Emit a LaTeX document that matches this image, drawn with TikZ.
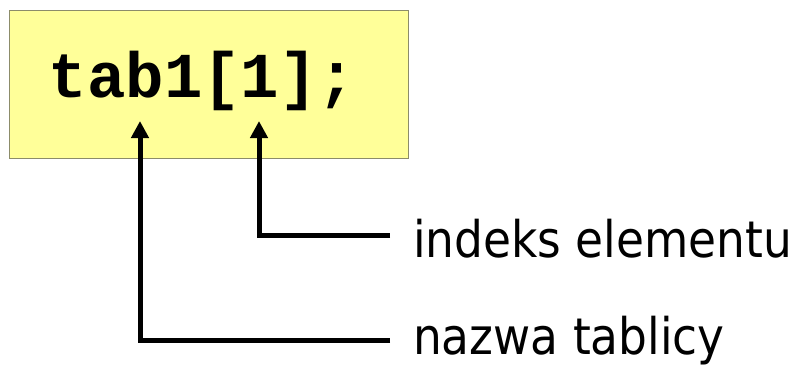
\documentclass[tikz,border=0pt]{standalone}
\usepackage{fontspec}
\setmainfont{DejaVu Sans}
\newfontfamily\codefont{Liberation Mono}
\newfontfamily\labelfont{DejaVu Sans Condensed}
\usetikzlibrary{arrows.meta}
\definecolor{boxfill}{HTML}{FFFF99}
\definecolor{boxedge}{HTML}{8C8C6A}
\tikzset{
  codebox/.style={draw=boxedge, line width=1pt, fill=boxfill},
  code/.style={font=\codefont\bfseries\fontsize{64}{64}\selectfont, inner sep=0pt},
  caption/.style={font=\labelfont\fontsize{50.5}{50.5}\selectfont, inner sep=0pt},
  pointer/.style={line width=5pt, -{Triangle[width=17pt,length=17pt]}}
}
\begin{document}
\begin{tikzpicture}[x=1pt,y=1pt]
  \useasboundingbox (0,0) rectangle (798,368);
  % the expression in its yellow box
  \draw[codebox] (9,210) rectangle (408,358);
  \node[code, anchor=base] (expr) at (202.6,271) {tab1[1];};
  % arrow tips under the array name and under the index
  \coordinate (tipName) at (140,247);
  \coordinate (tipIndex) at (259,247);
  % free ends of the connectors, left of the captions
  \coordinate (endIndex) at (390,133);
  \coordinate (endName) at (390,28);
  % captions
  \node[caption, anchor=base west] (lblIndex) at (413,111) {indeks elementu};
  \node[caption, anchor=base west] (lblName) at (413,14) {nazwa tablicy};
  % connectors
  \draw[pointer] (endIndex) -| (tipIndex);
  \draw[pointer] (endName) -| (tipName);
\end{tikzpicture}
\end{document}
